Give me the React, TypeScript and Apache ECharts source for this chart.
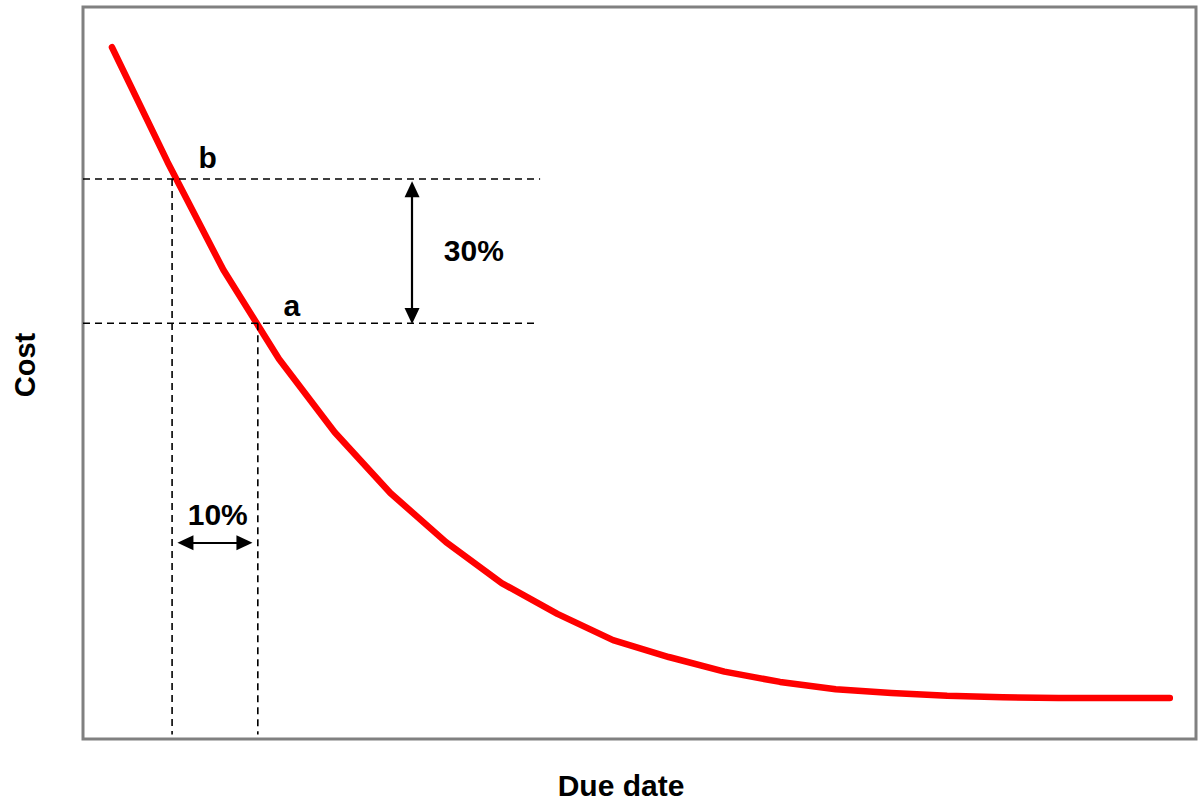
import React, { useEffect, useRef } from "react";
import * as echarts from "echarts";

// Cost curve: x = period index, y = cost (0..100 scale)
const curveX = [0, 1, 2, 3, 4, 5, 6, 7, 8, 9, 10, 11, 12, 13, 14, 15, 16, 17, 18, 19];
const curveY = [94.5, 78.8, 64.1, 51.9, 41.9, 33.6, 26.9, 21.3, 17.1, 13.5, 11.2, 9.2, 7.8, 6.8, 6.3, 5.9, 5.7, 5.6, 5.6, 5.6];

// reference points b and a
const pointB = [1.08, 76.5];
const pointA = [2.62, 56.8];
const dashRightB = 7.69;
const dashRightA = 7.63;
const axisXMin = -0.52;
const axisXMax = 19.47;
const dashBottom = 0.6;

// arrows
const vArrowX = 5.39;
const vArrowY = [75.1, 57.8];
const hArrowY = 26.8;
const hArrowX = [1.32, 2.38];

// annotation labels
const labelTexts = ["b", "a", "30%", "10%"];
const labelX = [1.72, 3.23, 6.5, 1.9];
const labelY = [79.4, 59.2, 66.7, 30.7];

const xAxisName = "Due date";
const yAxisName = "Cost";

const FONT = "'Liberation Sans', Arial, sans-serif";

export default function App() {
  const ref = useRef<HTMLDivElement>(null);
  useEffect(() => {
    document.body.style.margin = "0";
    if (!ref.current) return;
    const chart = echarts.init(ref.current, null, { renderer: "svg" });
    const dash = { color: "#000", width: 1.6, type: [7, 5] as any };
    chart.setOption({
      animation: false,
      grid: {
        left: 83,
        right: 2,
        top: 7,
        bottom: 61,
        show: true,
        borderColor: "#808080",
        borderWidth: 3,
      },
      xAxis: {
        type: "value",
        min: axisXMin,
        max: axisXMax,
        axisLine: { show: false },
        axisTick: { show: false },
        axisLabel: { show: false },
        splitLine: { show: false },
      },
      yAxis: {
        type: "value",
        min: 0,
        max: 100,
        axisLine: { show: false },
        axisTick: { show: false },
        axisLabel: { show: false },
        splitLine: { show: false },
      },
      graphic: [
        {
          type: "text",
          x: 621,
          y: 785,
          style: {
            text: xAxisName,
            font: `bold 30px ${FONT}`,
            fill: "#000",
            textAlign: "center",
            textVerticalAlign: "middle",
          },
        },
        {
          type: "text",
          x: 25,
          y: 365,
          rotation: Math.PI / 2,
          style: {
            text: yAxisName,
            font: `bold 29px ${FONT}`,
            fill: "#000",
            textAlign: "center",
            textVerticalAlign: "middle",
          },
        },
      ],
      series: [
        {
          type: "line",
          data: curveX.map((x, i) => [x, curveY[i]]),
          symbol: "none",
          lineStyle: { color: "#ff0000", width: 6.5, cap: "round", join: "round" },
          z: 2,
        },
        {
          type: "line",
          data: [[axisXMin, pointB[1]], [dashRightB, pointB[1]]],
          symbol: "none",
          lineStyle: dash,
          z: 3,
        },
        {
          type: "line",
          data: [[axisXMin, pointA[1]], [dashRightA, pointA[1]]],
          symbol: "none",
          lineStyle: dash,
          z: 3,
        },
        {
          type: "line",
          data: [[pointB[0], pointB[1]], [pointB[0], dashBottom]],
          symbol: "none",
          lineStyle: dash,
          z: 3,
        },
        {
          type: "line",
          data: [[pointA[0], pointA[1]], [pointA[0], dashBottom]],
          symbol: "none",
          lineStyle: dash,
          z: 3,
        },
        {
          type: "line",
          data: [],
          symbol: "none",
          z: 4,
          markLine: {
            silent: true,
            animation: false,
            symbol: ["triangle", "triangle"],
            symbolSize: [15, 16],
            label: { show: false },
            lineStyle: { color: "#000", width: 2.2, type: "solid" },
            data: [
              [{ coord: [vArrowX, vArrowY[0]] }, { coord: [vArrowX, vArrowY[1]] }],
              [{ coord: [hArrowX[0], hArrowY] }, { coord: [hArrowX[1], hArrowY] }],
            ],
          },
        },
        {
          type: "scatter",
          symbolSize: 0,
          itemStyle: { color: "#000", opacity: 1 },
          data: labelTexts.map((t, i) => [labelX[i], labelY[i], t]),
          label: {
            show: true,
            position: "inside",
            formatter: (p: any) => p.data[2],
            fontFamily: FONT,
            fontWeight: "bold",
            fontSize: 30,
            color: "#000",
            opacity: 1,
            textBorderWidth: 0,
            textBorderColor: "transparent",
          },
          z: 5,
        },
      ],
    });
    return () => chart.dispose();
  }, []);
  return <div ref={ref} style={{ width: 1198, height: 800 }} />;
}
